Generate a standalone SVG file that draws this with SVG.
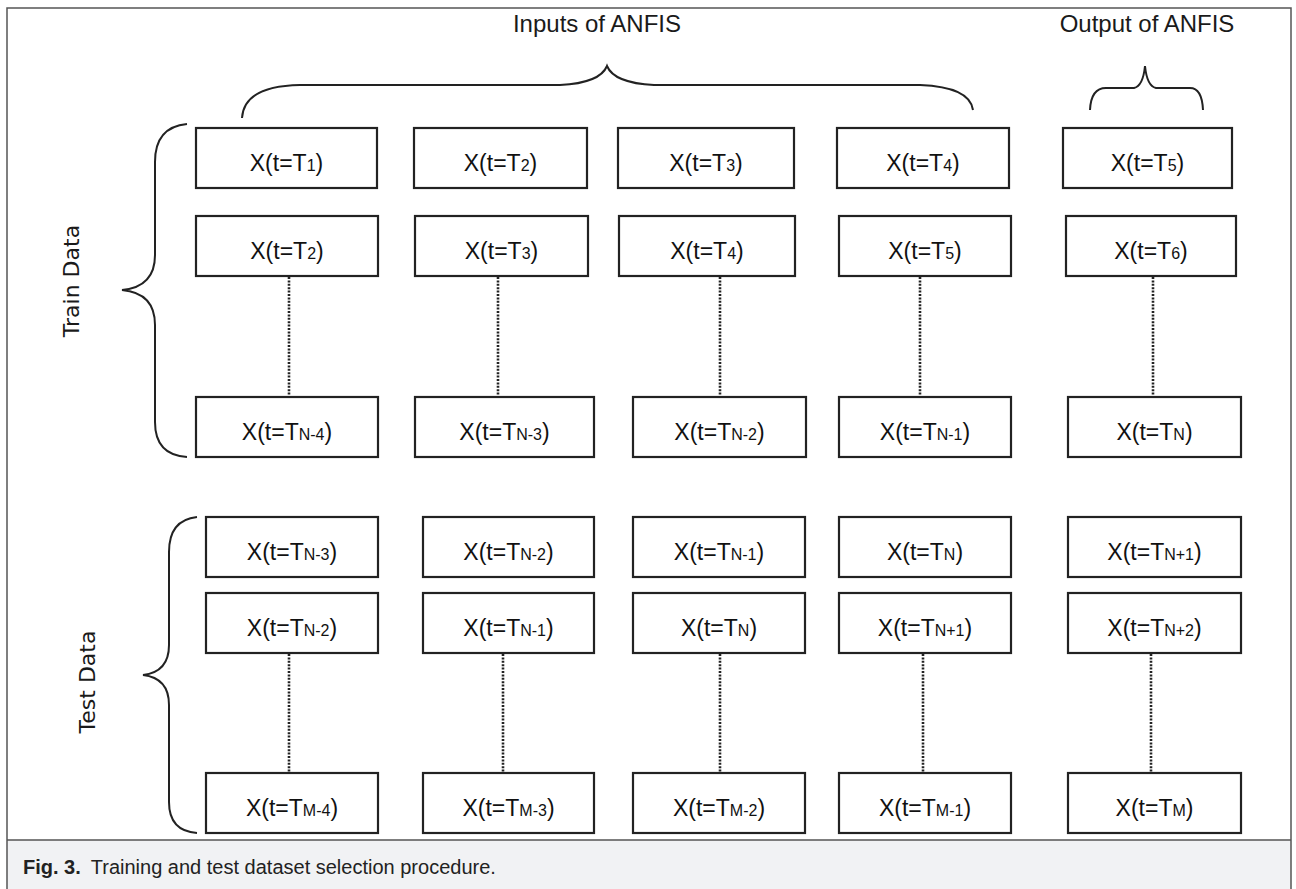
<svg xmlns="http://www.w3.org/2000/svg" width="1296" height="889" viewBox="0 0 1296 889">
<style>
.box{fill:#fff;stroke:#222;stroke-width:2.2}
.lbl{font-family:"Liberation Sans",Arial,sans-serif;font-size:23px;fill:#111;text-anchor:middle}
.sub{font-size:16px}
.dot{stroke:#222;stroke-width:2.6;stroke-dasharray:2 1.4;fill:none}
.brace{fill:none;stroke:#222;stroke-width:2}
.head{font-family:"Liberation Sans",Arial,sans-serif;font-size:24px;fill:#1a1a1a;text-anchor:middle}
.side{font-family:"DejaVu Sans",Verdana,sans-serif;font-size:22px;fill:#1a1a1a;text-anchor:middle}
.cap{font-family:"Liberation Sans",Arial,sans-serif;font-size:20px;fill:#222}
</style>
<rect x="0" y="0" width="1296" height="889" fill="#fff"/>
<rect x="7" y="840" width="1284" height="52" fill="#f1f2f4"/>
<rect x="7" y="8" width="1284" height="890" fill="none" stroke="#555" stroke-width="1.5"/>
<line x1="7" y1="840" x2="1291" y2="840" stroke="#555" stroke-width="1.5"/>
<text class="cap" x="23" y="874"><tspan font-weight="bold">Fig. 3.</tspan><tspan dx="10">Training and test dataset selection procedure.</tspan></text>

<g id="labels">
<text class="head" x="597" y="32">Inputs of ANFIS</text>
<text class="head" x="1147" y="32">Output of ANFIS</text>
<text class="side" transform="translate(79,281) rotate(-90)">Train Data</text>
<text class="side" transform="translate(95,682) rotate(-90)">Test Data</text>
</g>

<g id="braces">
<path class="brace" d="M242 118 Q244 86 300 85 L560 85 Q600 83 607 66 Q614 83 654 85 L920 85 Q970 87 973 110"/>
<path class="brace" d="M1090 110 Q1091 88 1106 88 L1134 88 Q1143 86 1145 66 Q1147 86 1156 88 L1190 88 Q1202 88 1203 110"/>
<path class="brace" d="M187 124 Q155 127 155 162 L155 255 Q155 287 122 290 Q155 293 155 325 L155 422 Q155 455 187 457"/>
<path class="brace" d="M197 517 Q169 520 169 552 L169 645 Q169 672 143 675 Q169 678 169 705 L169 802 Q169 831 197 833"/>
</g>

<g id="connectors">
<line class="dot" x1="289" y1="277" x2="289" y2="397"/>
<line class="dot" x1="498" y1="277" x2="498" y2="397"/>
<line class="dot" x1="720" y1="277" x2="720" y2="397"/>
<line class="dot" x1="920" y1="277" x2="920" y2="397"/>
<line class="dot" x1="1153" y1="277" x2="1153" y2="397"/>
<line class="dot" x1="289" y1="654" x2="289" y2="773"/>
<line class="dot" x1="503" y1="654" x2="503" y2="773"/>
<line class="dot" x1="720" y1="654" x2="720" y2="773"/>
<line class="dot" x1="923" y1="654" x2="923" y2="773"/>
<line class="dot" x1="1151" y1="654" x2="1151" y2="773"/>
</g>

<g id="tr1c1"><rect class="box" x="196" y="128" width="181" height="60"/><text class="lbl" x="286.5" y="171">X(t=T<tspan class="sub">1</tspan>)</text></g>
<g id="tr1c2"><rect class="box" x="414" y="128" width="173" height="60"/><text class="lbl" x="500.5" y="171">X(t=T<tspan class="sub">2</tspan>)</text></g>
<g id="tr1c3"><rect class="box" x="618" y="128" width="176" height="60"/><text class="lbl" x="706" y="171">X(t=T<tspan class="sub">3</tspan>)</text></g>
<g id="tr1c4"><rect class="box" x="837" y="128" width="172" height="60"/><text class="lbl" x="923" y="171">X(t=T<tspan class="sub">4</tspan>)</text></g>
<g id="tr1c5"><rect class="box" x="1063" y="128" width="169" height="60"/><text class="lbl" x="1147.5" y="171">X(t=T<tspan class="sub">5</tspan>)</text></g>

<g id="tr2c1"><rect class="box" x="196" y="216" width="182" height="60"/><text class="lbl" x="287" y="259">X(t=T<tspan class="sub">2</tspan>)</text></g>
<g id="tr2c2"><rect class="box" x="415" y="216" width="173" height="60"/><text class="lbl" x="501.5" y="259">X(t=T<tspan class="sub">3</tspan>)</text></g>
<g id="tr2c3"><rect class="box" x="619" y="216" width="176" height="60"/><text class="lbl" x="707" y="259">X(t=T<tspan class="sub">4</tspan>)</text></g>
<g id="tr2c4"><rect class="box" x="839" y="216" width="172" height="60"/><text class="lbl" x="925" y="259">X(t=T<tspan class="sub">5</tspan>)</text></g>
<g id="tr2c5"><rect class="box" x="1066" y="216" width="170" height="60"/><text class="lbl" x="1151" y="259">X(t=T<tspan class="sub">6</tspan>)</text></g>

<g id="trNc1"><rect class="box" x="196" y="397" width="182" height="60"/><text class="lbl" x="287" y="440">X(t=T<tspan class="sub">N-4</tspan>)</text></g>
<g id="trNc2"><rect class="box" x="415" y="397" width="179" height="60"/><text class="lbl" x="504.5" y="440">X(t=T<tspan class="sub">N-3</tspan>)</text></g>
<g id="trNc3"><rect class="box" x="633" y="397" width="173" height="60"/><text class="lbl" x="719.5" y="440">X(t=T<tspan class="sub">N-2</tspan>)</text></g>
<g id="trNc4"><rect class="box" x="839" y="397" width="172" height="60"/><text class="lbl" x="925" y="440">X(t=T<tspan class="sub">N-1</tspan>)</text></g>
<g id="trNc5"><rect class="box" x="1068" y="397" width="173" height="60"/><text class="lbl" x="1154.5" y="440">X(t=T<tspan class="sub">N</tspan>)</text></g>

<g id="te1c1"><rect class="box" x="206" y="517" width="172" height="60"/><text class="lbl" x="292" y="560">X(t=T<tspan class="sub">N-3</tspan>)</text></g>
<g id="te1c2"><rect class="box" x="423" y="517" width="171" height="60"/><text class="lbl" x="508.5" y="560">X(t=T<tspan class="sub">N-2</tspan>)</text></g>
<g id="te1c3"><rect class="box" x="633" y="517" width="172" height="60"/><text class="lbl" x="719" y="560">X(t=T<tspan class="sub">N-1</tspan>)</text></g>
<g id="te1c4"><rect class="box" x="839" y="517" width="172" height="60"/><text class="lbl" x="925" y="560">X(t=T<tspan class="sub">N</tspan>)</text></g>
<g id="te1c5"><rect class="box" x="1068" y="517" width="173" height="60"/><text class="lbl" x="1154.5" y="560">X(t=T<tspan class="sub">N+1</tspan>)</text></g>

<g id="te2c1"><rect class="box" x="206" y="593" width="172" height="60"/><text class="lbl" x="292" y="636">X(t=T<tspan class="sub">N-2</tspan>)</text></g>
<g id="te2c2"><rect class="box" x="423" y="593" width="171" height="60"/><text class="lbl" x="508.5" y="636">X(t=T<tspan class="sub">N-1</tspan>)</text></g>
<g id="te2c3"><rect class="box" x="633" y="593" width="172" height="60"/><text class="lbl" x="719" y="636">X(t=T<tspan class="sub">N</tspan>)</text></g>
<g id="te2c4"><rect class="box" x="839" y="593" width="172" height="60"/><text class="lbl" x="925" y="636">X(t=T<tspan class="sub">N+1</tspan>)</text></g>
<g id="te2c5"><rect class="box" x="1068" y="593" width="173" height="60"/><text class="lbl" x="1154.5" y="636">X(t=T<tspan class="sub">N+2</tspan>)</text></g>

<g id="teMc1"><rect class="box" x="206" y="773" width="172" height="60"/><text class="lbl" x="292" y="816">X(t=T<tspan class="sub">M-4</tspan>)</text></g>
<g id="teMc2"><rect class="box" x="423" y="773" width="171" height="60"/><text class="lbl" x="508.5" y="816">X(t=T<tspan class="sub">M-3</tspan>)</text></g>
<g id="teMc3"><rect class="box" x="633" y="773" width="172" height="60"/><text class="lbl" x="719" y="816">X(t=T<tspan class="sub">M-2</tspan>)</text></g>
<g id="teMc4"><rect class="box" x="839" y="773" width="172" height="60"/><text class="lbl" x="925" y="816">X(t=T<tspan class="sub">M-1</tspan>)</text></g>
<g id="teMc5"><rect class="box" x="1068" y="773" width="173" height="60"/><text class="lbl" x="1154.5" y="816">X(t=T<tspan class="sub">M</tspan>)</text></g>
</svg>
